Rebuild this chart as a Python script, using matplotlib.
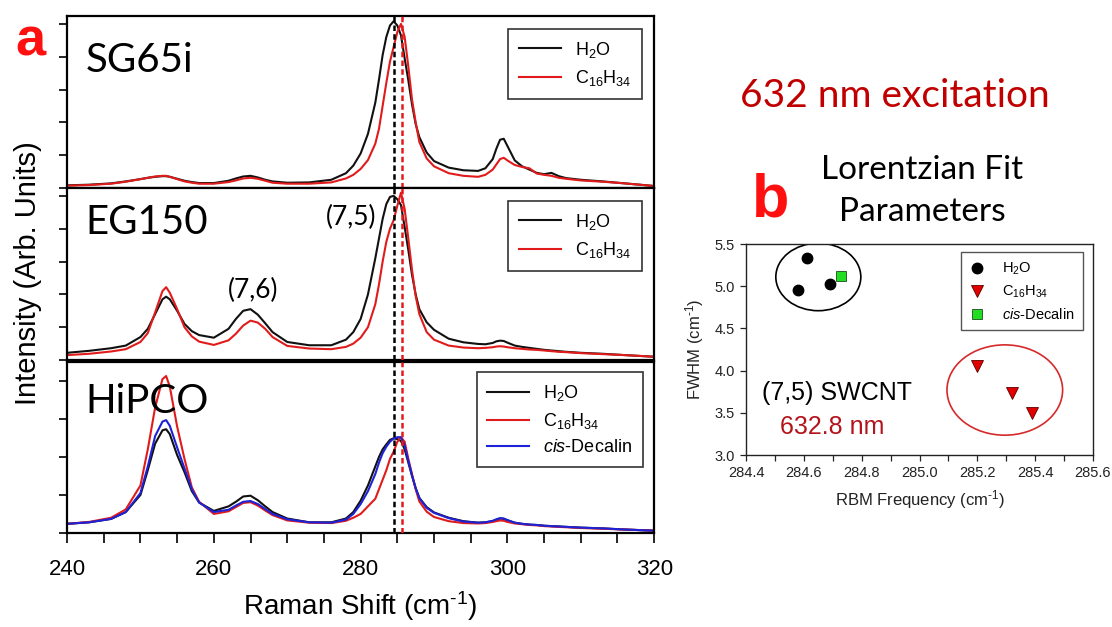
#%%
####################################################################################################
# LIBRARIES
####################################################################################################
import matplotlib.pyplot as plt
from matplotlib.patches import Ellipse
from matplotlib.ticker import MultipleLocator, FormatStrFormatter


#%%
####################################################################################################
# DATA
####################################################################################################
# Raman shift grid (cm-1), denser around the peaks
shift = [240, 243, 246, 248, 250,
         251, 252, 253, 253.5, 254,
         255, 256, 257, 258, 260,
         262, 263, 264, 265, 266,
         267, 268, 270, 273, 276,
         278, 279, 280, 281, 282,
         282.5, 283, 283.5, 284, 284.5,
         285, 285.5, 286, 286.5, 287,
         287.5, 288, 289, 290, 292,
         294, 296, 297, 298, 298.5,
         299, 299.5, 300, 301, 302,
         303, 304, 305, 306, 307,
         308, 310, 313, 316, 320]

# SG65i
sg_h2o = [0.08, 0.10, 0.14, 0.20, 0.27,
          0.31, 0.34, 0.36, 0.36, 0.34,
          0.28, 0.22, 0.18, 0.15, 0.15,
          0.22, 0.29, 0.35, 0.37, 0.32,
          0.25, 0.20, 0.16, 0.17, 0.25,
          0.45, 0.68, 1.05, 1.65, 2.60,
          3.30, 4.05, 4.60, 4.95, 5.08,
          4.95, 4.65, 3.95, 3.28, 2.55,
          1.95, 1.55, 1.08, 0.82, 0.62,
          0.54, 0.52, 0.60, 0.88, 1.20,
          1.47, 1.50, 1.28, 0.84, 0.66,
          0.56, 0.46, 0.42, 0.46, 0.36,
          0.30, 0.25, 0.20, 0.14, 0.06]
sg_c16 = [0.07, 0.09, 0.13, 0.19, 0.27,
          0.31, 0.35, 0.37, 0.37, 0.34,
          0.27, 0.20, 0.16, 0.13, 0.13,
          0.18, 0.23, 0.29, 0.31, 0.28,
          0.22, 0.16, 0.13, 0.13, 0.17,
          0.29, 0.40, 0.58, 0.85, 1.35,
          1.80, 2.50, 3.20, 3.85, 4.30,
          4.75, 5.00, 4.60, 3.70, 2.70,
          2.00, 1.40, 0.90, 0.66, 0.45,
          0.37, 0.34, 0.40, 0.56, 0.72,
          0.88, 0.92, 0.84, 0.70, 0.64,
          0.60, 0.44, 0.40, 0.37, 0.31,
          0.28, 0.23, 0.19, 0.14, 0.06]

# EG150
eg_h2o = [0.22, 0.28, 0.36, 0.44, 0.70,
          0.95, 1.40, 1.85, 1.93, 1.85,
          1.50, 1.10, 0.88, 0.76, 0.68,
          0.95, 1.25, 1.50, 1.55, 1.38,
          1.12, 0.85, 0.55, 0.45, 0.45,
          0.62, 0.85, 1.25, 2.00, 3.10,
          3.70, 4.30, 4.75, 4.97, 5.00,
          4.90, 4.72, 4.05, 3.35, 2.60,
          2.00, 1.55, 1.15, 0.92, 0.65,
          0.54, 0.49, 0.48, 0.52, 0.57,
          0.59, 0.58, 0.53, 0.44, 0.40,
          0.37, 0.34, 0.31, 0.29, 0.27,
          0.25, 0.22, 0.19, 0.15, 0.10]
eg_c16 = [0.15, 0.19, 0.26, 0.33, 0.55,
          0.82, 1.45, 2.10, 2.22, 2.05,
          1.55, 1.00, 0.72, 0.56, 0.46,
          0.60, 0.80, 1.05, 1.20, 1.14,
          0.95, 0.70, 0.43, 0.35, 0.33,
          0.40, 0.50, 0.68, 1.00, 1.70,
          2.30, 3.00, 3.60, 4.00, 4.26,
          4.70, 5.10, 4.60, 3.70, 2.75,
          1.95, 1.40, 0.85, 0.62, 0.44,
          0.38, 0.36, 0.37, 0.39, 0.41,
          0.42, 0.41, 0.39, 0.36, 0.34,
          0.32, 0.31, 0.29, 0.27, 0.25,
          0.24, 0.21, 0.18, 0.15, 0.10]

# HiPCO
hp_h2o = [0.24, 0.28, 0.37, 0.55, 1.00,
          1.65, 2.35, 2.70, 2.73, 2.60,
          2.05, 1.60, 1.10, 0.80, 0.58,
          0.70, 0.82, 0.96, 0.98, 0.86,
          0.70, 0.55, 0.38, 0.28, 0.28,
          0.38, 0.55, 0.85, 1.25, 1.75,
          2.00, 2.20, 2.33, 2.45, 2.49,
          2.47, 2.42, 2.20, 1.85, 1.50,
          1.18, 0.92, 0.68, 0.54, 0.40,
          0.31, 0.27, 0.28, 0.31, 0.35,
          0.38, 0.37, 0.33, 0.27, 0.24,
          0.22, 0.21, 0.19, 0.18, 0.17,
          0.16, 0.14, 0.12, 0.09, 0.06]
hp_c16 = [0.24, 0.29, 0.40, 0.62, 1.25,
          2.20, 3.30, 4.05, 4.13, 3.85,
          2.80, 1.95, 1.20, 0.82, 0.50,
          0.57, 0.68, 0.79, 0.81, 0.72,
          0.59, 0.47, 0.33, 0.27, 0.26,
          0.32, 0.40, 0.50, 0.70, 0.90,
          1.15, 1.40, 1.65, 1.95, 2.14,
          2.40, 2.52, 2.40, 1.95, 1.55,
          1.15, 0.83, 0.56, 0.42, 0.31,
          0.26, 0.25, 0.26, 0.29, 0.31,
          0.33, 0.32, 0.29, 0.25, 0.23,
          0.21, 0.20, 0.18, 0.17, 0.16,
          0.15, 0.13, 0.11, 0.09, 0.06]
hp_dec = [0.24, 0.28, 0.37, 0.55, 1.05,
          1.75, 2.55, 2.93, 2.97, 2.82,
          2.25, 1.70, 1.15, 0.80, 0.55,
          0.61, 0.72, 0.82, 0.84, 0.76,
          0.63, 0.50, 0.36, 0.28, 0.27,
          0.35, 0.50, 0.76, 1.10, 1.55,
          1.85, 2.10, 2.27, 2.40, 2.49,
          2.52, 2.52, 2.30, 1.90, 1.52,
          1.18, 0.92, 0.66, 0.53, 0.39,
          0.30, 0.27, 0.28, 0.32, 0.36,
          0.39, 0.38, 0.34, 0.27, 0.24,
          0.22, 0.21, 0.19, 0.18, 0.17,
          0.16, 0.14, 0.12, 0.09, 0.06]

# (7,5) RBM positions marked by the dashed lines
peak_h2o = 284.53
peak_c16 = 285.57

# Lorentzian fit of the (7,5) RBM: frequency (cm-1) / FWHM (cm-1)
fit_h2o_freq = [284.58, 284.61, 284.69]
fit_h2o_fwhm = [4.95, 5.33, 5.03]
fit_c16_freq = [285.20, 285.32, 285.39]
fit_c16_fwhm = [4.06, 3.73, 3.50]
fit_dec_freq = [284.73]
fit_dec_fwhm = [5.12]

labels = ["H$_2$O", "C$_{16}$H$_{34}$", "$\\mathit{cis}$-Decalin"]
colors = ["#111111", "#e11b1b", "#1e22d6"]
inv_cm = "(cm$^{\\text{-}1}$)"


#%%
####################################################################################################
# FUNCTIONS
####################################################################################################
def spectrum_panel(ax, curves, ymax, name, name_y, leg_anchor, bottom=False):
    for i, y in enumerate(curves):
        ax.plot(shift, y, color=colors[i], lw=1.5, label=labels[i])
    # dashed markers on top of the spectra
    ax.axvline(peak_h2o, color="black", lw=1.8, ls=(0, (2.2, 1.3)), zorder=5)
    ax.axvline(peak_c16, color="#e11b1b", lw=1.8, ls=(0, (2.2, 1.3)), zorder=5)

    ax.set_xlim(240, 320)
    ax.set_ylim(0, ymax)
    ax.yaxis.set_major_locator(MultipleLocator(1))
    ax.tick_params(axis="y", direction="out", length=6, width=1.2, labelleft=False)
    if bottom:
        ax.xaxis.set_major_locator(MultipleLocator(20))
        ax.xaxis.set_minor_locator(MultipleLocator(5))
        ax.tick_params(axis="x", which="both", direction="out", length=7, width=1.2,
                       labelsize=16, pad=12)
    else:
        ax.tick_params(axis="x", which="both", bottom=False, labelbottom=False)
    for sp in ax.spines.values():
        sp.set_linewidth(1.6)

    ax.text(0.032, name_y, name, transform=ax.transAxes, fontsize=29, family="Lato",
            va="baseline", ha="left")
    ax.legend(loc="upper right", bbox_to_anchor=leg_anchor, fontsize=13, frameon=True,
              fancybox=False, edgecolor="#333333", framealpha=1, borderaxespad=0,
              borderpad=0.6, labelspacing=0.45, handlelength=2.3, handletextpad=0.8)
    ax.get_legend().get_frame().set_linewidth(1.2)


#%%
####################################################################################################
# MAIN
####################################################################################################
def main():
    plt.rcParams["font.family"] = "Liberation Sans"
    plt.rcParams["mathtext.fontset"] = "custom"
    plt.rcParams["mathtext.rm"] = "Liberation Sans"
    plt.rcParams["mathtext.it"] = "Liberation Sans:italic"
    plt.rcParams["mathtext.bf"] = "Liberation Sans:bold"

    fig = plt.figure(figsize=(11.12, 6.27), dpi=100)

    # a : stacked spectra
    ax_top = fig.add_axes([0.0603, 0.7002, 0.528, 0.2743])
    ax_mid = fig.add_axes([0.0603, 0.4258, 0.528, 0.2743])
    ax_bot = fig.add_axes([0.0603, 0.1500, 0.528, 0.2727])

    spectrum_panel(ax_top, [sg_h2o, sg_c16], 5.24, "SG65i", 0.674, (0.98, 0.925))
    spectrum_panel(ax_mid, [eg_h2o, eg_c16], 5.24, "EG150", 0.735, (0.98, 0.925))
    spectrum_panel(ax_bot, [hp_h2o, hp_c16, hp_dec], 4.5, "HiPCO", 0.70, (0.981, 0.94),
                   bottom=True)

    ax_mid.text(265.3, 2.13, "(7,6)", fontsize=19, family="Lato", ha="center", va="center")
    ax_mid.text(278.7, 4.33, "(7,5)", fontsize=19, family="Lato", ha="center", va="center")

    fig.text(0.025, 0.565, "Intensity (Arb. Units)", rotation=90, fontsize=21,
             ha="center", va="center")
    fig.text(0.324, 0.0335, "Raman Shift " + inv_cm, fontsize=20, ha="center", va="center")
    fig.text(0.0135, 0.912, "a", color="#ff1010", fontsize=39, fontweight="bold",
             va="baseline")

    # b : fit parameters
    ax_b = fig.add_axes([0.6709, 0.2743, 0.312, 0.3365])
    ax_b.add_patch(Ellipse((284.65, 5.11), 0.294, 0.80, fill=False, ec="black", lw=1.2))
    ax_b.add_patch(Ellipse((285.295, 3.77), 0.40, 1.07, fill=False, ec="#d62a2a", lw=1.2))
    ax_b.plot(fit_h2o_freq, fit_h2o_fwhm, "o", ms=7.5, color="black", label=labels[0])
    ax_b.plot(fit_c16_freq, fit_c16_fwhm, "v", ms=8, color="#e00000", mec="#5a0000",
              mew=0.6, label=labels[1])
    ax_b.plot(fit_dec_freq, fit_dec_fwhm, "s", ms=7, color="#22dd22", mec="#1a4d1a",
              mew=0.6, label=labels[2])

    ax_b.set_xlim(284.4, 285.6)
    ax_b.set_ylim(3.0, 5.5)
    ax_b.xaxis.set_major_locator(MultipleLocator(0.2))
    ax_b.xaxis.set_minor_locator(MultipleLocator(0.1))
    ax_b.yaxis.set_major_locator(MultipleLocator(0.5))
    ax_b.xaxis.set_major_formatter(FormatStrFormatter("%.1f"))
    ax_b.yaxis.set_major_formatter(FormatStrFormatter("%.1f"))
    ax_b.tick_params(which="both", direction="out", length=4, width=0.9, labelsize=10.5,
                     colors="#222222", pad=4)
    for sp in ax_b.spines.values():
        sp.set_linewidth(1.0)
        sp.set_color("#222222")
    ax_b.set_xlabel("RBM Frequency " + inv_cm, fontsize=12, color="#222222", labelpad=6)
    ax_b.set_ylabel("FWHM " + inv_cm, fontsize=12, color="#222222", labelpad=6)

    ax_b.text(284.455, 3.73, "(7,5) SWCNT", fontsize=18, ha="left", va="center")
    ax_b.text(284.518, 3.33, "632.8 nm", fontsize=18, color="#b3141c", ha="left", va="center")

    leg = ax_b.legend(loc="upper right", bbox_to_anchor=(0.971, 0.962), fontsize=10.5,
                      frameon=True, fancybox=False, edgecolor="#555555", framealpha=1,
                      borderaxespad=0, borderpad=0.6, labelspacing=0.45, handlelength=1,
                      handletextpad=1.2)
    leg.get_frame().set_linewidth(1.0)

    fig.text(0.805, 0.847, "632 nm excitation", fontsize=28, family="Lato", color="#c00000",
             ha="center", va="center")
    fig.text(0.829, 0.729, "Lorentzian Fit", fontsize=24, family="Lato", ha="center",
             va="center")
    fig.text(0.829, 0.662, "Parameters", fontsize=24, family="Lato", ha="center", va="center")
    fig.text(0.676, 0.654, "b", color="#ff1010", fontsize=44, fontweight="bold",
             va="baseline")

    fig.savefig("out.png", dpi=100)


if __name__ == "__main__":
    main()
